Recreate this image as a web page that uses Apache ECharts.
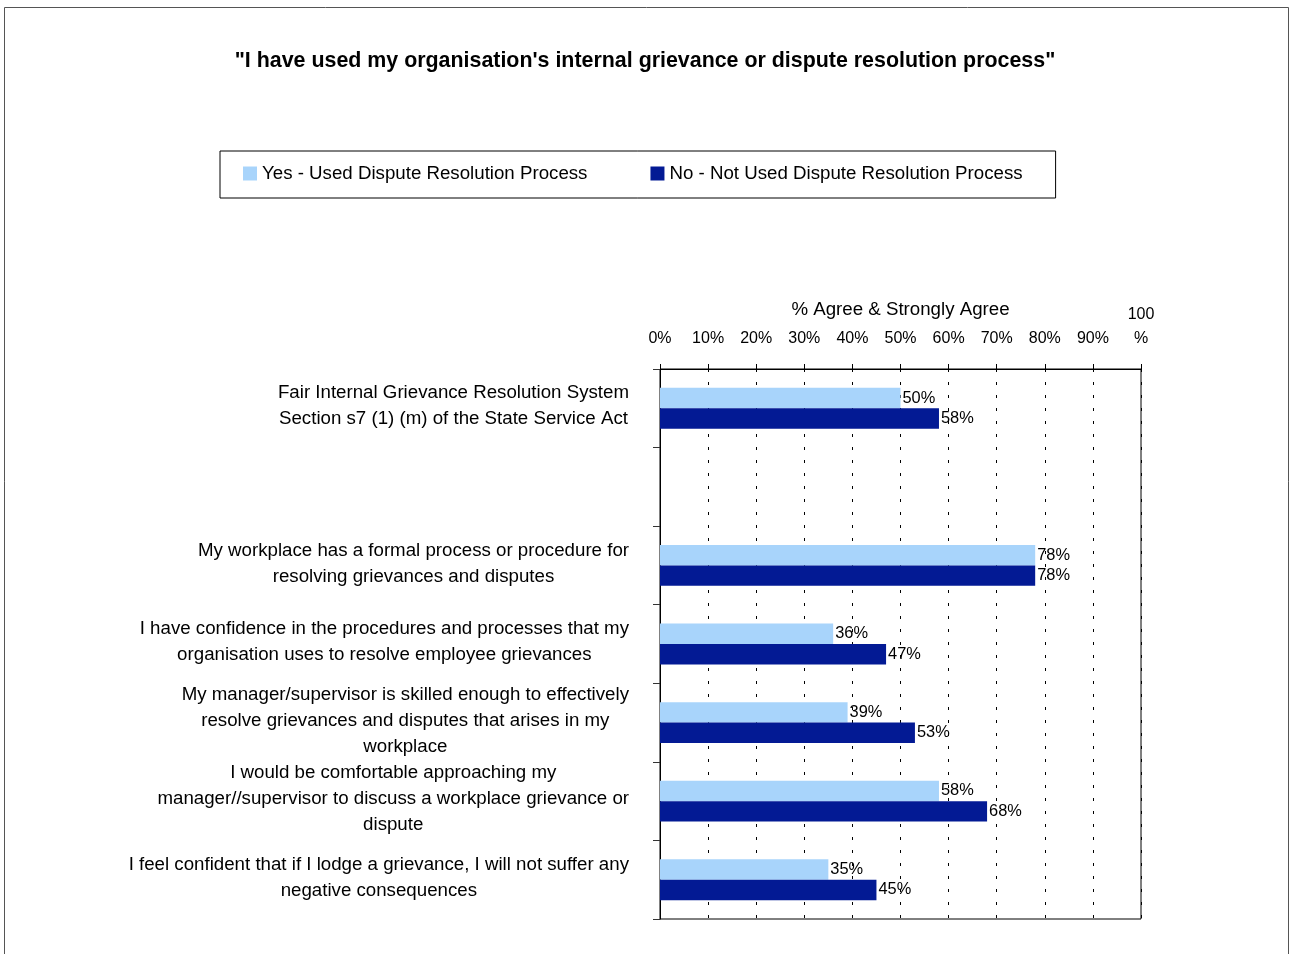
<!DOCTYPE html>
<html>
<head>
<meta charset="utf-8">
<script src="https://cdn.jsdelivr.net/npm/echarts@6/dist/echarts.min.js"></script>
<style>
  html, body { margin: 0; padding: 0; background: #fff; }
  #chart { width: 1290px; height: 954px; }
</style>
</head>
<body>
<div id="chart"></div>
<script>
// Survey statements (top to bottom); the second slot is intentionally left blank
const categories = [
  'Fair Internal Grievance Resolution System\nSection s7 (1) (m) of the State Service Act',
  '',
  'My workplace has a formal process or procedure for\nresolving grievances and disputes',
  'I have confidence in the procedures and processes that my\norganisation uses to resolve employee grievances',
  'My manager/supervisor is skilled enough to effectively\nresolve grievances and disputes that arises in my\nworkplace',
  'I would be comfortable approaching my\nmanager//supervisor to discuss a workplace grievance or\ndispute',
  'I feel confident that if I lodge a grievance, I will not suffer any\nnegative consequences'
];
const seriesNames = ['Yes - Used Dispute Resolution Process', 'No - Not Used Dispute Resolution Process'];
const usedValues = [50, null, 78, 36, 39, 58, 35];
const notUsedValues = [58, null, 78, 47, 53, 68, 45];
const xTicks = [0, 10, 20, 30, 40, 50, 60, 70, 80, 90, 100];

const FONT = '"Liberation Sans", Arial, Helvetica, sans-serif';
const TEXT_SIZE = 18.7;
const chart = echarts.init(document.getElementById('chart'), null, { renderer: 'canvas' });

// Each label line is centred inside its own block
const centredLines = s => s.split('\n').map(l => '{c|' + l + '}').join('\n');

const valueLabel = {
  show: true,
  position: 'right',
  distance: 2,
  color: '#000',
  fontSize: 16.4,
  fontFamily: FONT,
  formatter: p => (p.value == null ? '' : p.value + '%')
};

chart.setOption({
  backgroundColor: '#fff',
  animation: false,
  textStyle: { fontFamily: FONT },
  title: {
    text: '"I have used my organisation\'s internal grievance or dispute resolution process"',
    left: 'center',
    top: 46,
    textStyle: { fontSize: 21.4, fontWeight: 'bold', color: '#000', fontFamily: FONT }
  },
  legend: {
    data: seriesNames,
    left: 220,
    top: 151,
    padding: [13, 33, 15, 23],
    itemGap: 63,
    itemWidth: 14,
    itemHeight: 14,
    icon: 'rect',
    borderColor: '#000',
    borderWidth: 1,
    textStyle: { fontSize: TEXT_SIZE, color: '#000', fontFamily: FONT }
  },
  grid: {
    left: 660,
    right: 149,
    top: 369,
    bottom: 35,
    show: true,
    borderColor: '#000',
    borderWidth: 1,
    backgroundColor: 'transparent'
  },
  xAxis: {
    type: 'value',
    position: 'top',
    min: 0,
    max: 100,
    interval: 10,
    name: '% Agree & Strongly Agree',
    nameLocation: 'middle',
    nameGap: 50,
    nameMoveOverlap: false,
    nameTextStyle: { fontSize: TEXT_SIZE, color: '#000', fontFamily: FONT },
    axisLine: { show: true, lineStyle: { color: '#000', width: 1 } },
    axisTick: { show: true, length: 5, lineStyle: { color: '#000' } },
    axisLabel: {
      margin: 18,
      fontSize: 16,
      lineHeight: 24,
      color: '#000',
      fontFamily: FONT,
      formatter: v => (xTicks.indexOf(v) < 0 ? '' : (v === 100 ? '100\n%' : v + '%'))
    },
    splitLine: { show: true, lineStyle: { color: '#000', width: 1, type: [3, 10] } }
  },
  yAxis: {
    type: 'category',
    inverse: true,
    data: categories,
    axisLine: { show: true, lineStyle: { color: '#000', width: 1 } },
    axisTick: { show: true, length: 7, lineStyle: { color: '#333' } },
    axisLabel: {
      margin: 31,
      fontSize: TEXT_SIZE,
      lineHeight: 26,
      color: '#000',
      fontFamily: FONT,
      padding: [0, 0, 4, 0],
      formatter: centredLines,
      rich: { c: { align: 'center', fontSize: TEXT_SIZE, lineHeight: 26, color: '#000', fontFamily: FONT } }
    },
    splitLine: { show: false }
  },
  series: [
    {
      name: seriesNames[0],
      type: 'bar',
      data: usedValues,
      barGap: '0%',
      barCategoryGap: '48%',
      itemStyle: { color: '#A8D4FB' },
      label: valueLabel
    },
    {
      name: seriesNames[1],
      type: 'bar',
      data: notUsedValues,
      barGap: '0%',
      barCategoryGap: '48%',
      itemStyle: { color: '#031A94' },
      label: valueLabel
    }
  ],
  graphic: [
    {
      type: 'rect',
      silent: true,
      shape: { x: 4.5, y: 7.5, width: 1284, height: 1000 },
      style: { fill: 'none', stroke: '#555', lineWidth: 1 }
    }
  ]
});
</script>
</body>
</html>
